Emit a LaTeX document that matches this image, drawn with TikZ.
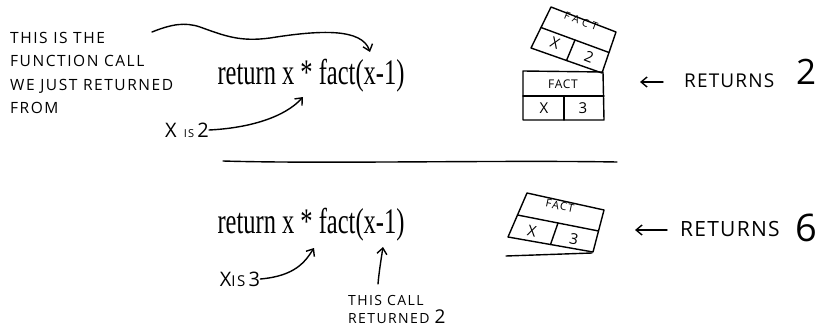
\documentclass[tikz,border=0pt]{standalone}
\usepackage{fontspec}
\newfontfamily\handfont{Open Sans}[LetterSpace=6]
\newfontfamily\widehand{Open Sans}[LetterSpace=10]
\newfontfamily\spreadhand{Open Sans}[LetterSpace=35]
\newfontfamily\codefont{Liberation Serif}
\usetikzlibrary{arrows.meta,calc}
\tikzset{
  ink/.style={line width=1.4pt, line cap=round, line join=round},
  arr/.style={ink, -{Straight Barb[length=6pt,width=10pt]}},
  caps/.style={font=\widehand\fontsize{15.5}{23.4}\selectfont, align=left, inner sep=0pt},
  code/.style={font=\codefont\fontsize{36}{40}\selectfont, inner sep=0pt, xscale=0.68},
  cell/.style={font=\handfont\fontsize{15}{16}\selectfont, inner sep=0pt},
  celltitle/.style={font=\widehand\fontsize{11}{12}\selectfont, inner sep=0pt},
  retlbl/.style={font=\handfont\fontsize{19}{20}\selectfont, inner sep=0pt, anchor=west},
  bignum/.style={font=\handfont\fontsize{35}{36}\selectfont, inner sep=0pt}
}
\begin{document}
\begin{tikzpicture}[x=1pt,y=-1pt]
\useasboundingbox (0,0) rectangle (829,334);
% --- top section ---
\node[caps, anchor=north west] (note1) at (10,32) {THIS IS THE\\FUNCTION CALL\\WE JUST RETURNED\\FROM};
\node[code] (code1) at (311,76) {return x * fact(x-1)};
\coordinate (s1) at (152,32);
\coordinate (t1) at (370,52);
\draw[arr] (s1) .. controls (172,24) and (185,22) .. (200,27)
   .. controls (225,36) and (240,42) .. (270,38) .. controls (320,30) and (362,28) .. (t1);
\node[inner sep=0pt, font=\widehand\fontsize{20}{21}\selectfont] (xis2) at (187,130) {X {\fontsize{11}{12}\selectfont IS}\,2};
\coordinate (t2) at (303,97);
\draw[arr] (xis2.east) .. controls (250,128) and (285,117) .. (t2);

% stacked frames, top section
\coordinate (A1) at (551,7); \coordinate (B1) at (616,32);
\coordinate (C1) at (602,73); \coordinate (D1) at (531,48);
\draw[ink, fill=white] (A1) -- (B1) -- (C1) -- (D1) -- cycle;
\draw[ink] ($(A1)!0.5!(D1)$) coordinate (L1) -- ($(B1)!0.5!(C1)$) coordinate (R1);
\draw[ink] ($(L1)!0.5!(R1)$) -- ($(D1)!0.5!(C1)$);
\node[celltitle, font=\spreadhand\fontsize{10.5}{12}\selectfont, rotate=-21] (f1t) at (581,21) {FACT};
\node[cell, rotate=-21] (f1x) at (555,43) {X};
\node[cell, rotate=-21] (f1v) at (589,57) {2};

\coordinate (A2) at (523,71); \coordinate (B2) at (603,72);
\coordinate (C2) at (604,120); \coordinate (D2) at (523,120);
\draw[ink] (A2) -- (B2) -- (C2) -- (D2) -- cycle;
\draw[ink] (523,96) -- (604,96);
\draw[ink] (564,96) -- (564,120);
\node[celltitle, font=\handfont\fontsize{12}{13}\selectfont] (f2t) at (563,84) {FACT};
\node[cell] (f2x) at (544,108) {X};
\node[cell] (f2v) at (583,108) {3};

\coordinate (r2a) at (663,82); \coordinate (r2b) at (640,82);
\draw[arr] (r2a) -- (r2b);
\node[retlbl] (ret2) at (684,81) {RETURNS};
\node[bignum] (n2) at (806,72) {2};

% divider
\coordinate (h1) at (223,161); \coordinate (h2) at (617,162);
\draw[ink] (h1) .. controls (320,164) and (500,160) .. (h2);

% --- bottom section ---
\node[code] (code2) at (311,225) {return x * fact(x-1)};
\node[inner sep=0pt, font=\widehand\fontsize{20}{21}\selectfont] (xis3) at (240,279) {X{\fontsize{15}{16}\selectfont IS}\,3};
\coordinate (t3) at (314,248);
\draw[arr] (xis3.east) .. controls (295,276) and (305,262) .. (t3);
\node[caps, font=\widehand\fontsize{14}{18.5}\selectfont, anchor=north west] (call2) at (348,295) {THIS CALL\\RETURNED {\fontsize{19}{19}\selectfont 2}};
\coordinate (t4) at (383,247);
\draw[arr] (378,284) .. controls (379,272) and (381,260) .. (t4);

\coordinate (A3) at (527,193); \coordinate (B3) at (604,210);
\coordinate (C3) at (593,252); \coordinate (D3) at (508,237);
\draw[ink] (A3) -- (B3) -- (C3) -- (D3) -- cycle;
\draw[ink] ($(A3)!0.5!(D3)$) coordinate (L3) -- ($(B3)!0.5!(C3)$) coordinate (R3);
\draw[ink] ($(L3)!0.5!(R3)$) -- ($(D3)!0.5!(C3)$);
\coordinate (u1) at (506,256); \coordinate (u2) at (592,253);
\draw[ink] (u1) -- (u2);
\node[celltitle, rotate=-12] (f3t) at (560,206) {FACT};
\node[cell, rotate=-12] (f3x) at (532,231) {X};
\node[cell, rotate=-12] (f3v) at (574,239) {3};

\coordinate (r6a) at (667,230); \coordinate (r6b) at (635,230);
\draw[arr] (r6a) -- (r6b);
\node[retlbl, font=\handfont\fontsize{21}{22}\selectfont] (ret6) at (680,229) {RETURNS};
\node[bignum, font=\handfont\fontsize{38}{40}\selectfont] (n6) at (806,228) {6};
\end{tikzpicture}
\end{document}
